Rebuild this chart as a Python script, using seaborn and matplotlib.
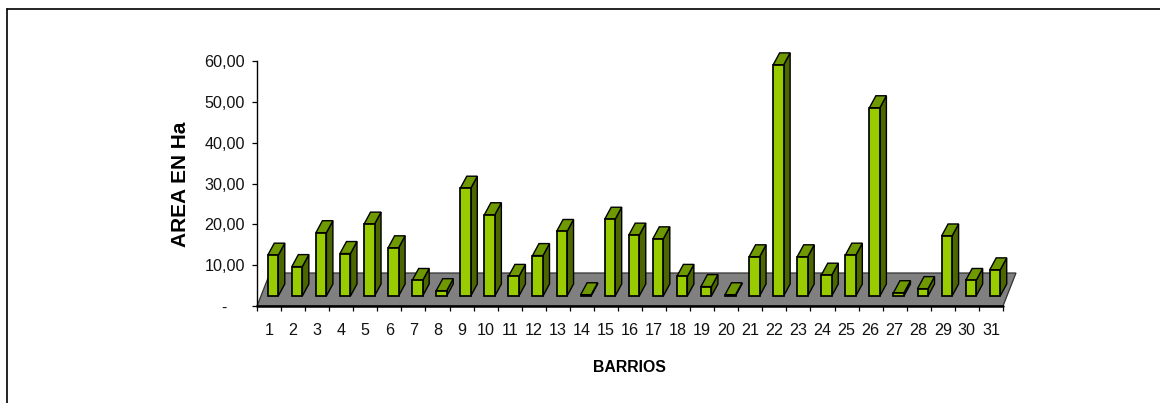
import matplotlib
matplotlib.use("Agg")
import matplotlib.pyplot as plt
import seaborn as sns
import pandas as pd
from matplotlib.patches import Polygon
from matplotlib.lines import Line2D

barrios = [str(i) for i in range(1, 32)]
area = [10.0, 7.2, 15.5, 10.4, 17.6, 11.8, 3.8, 1.3, 26.4, 19.9,
        4.8, 9.9, 15.8, 0.3, 18.8, 14.9, 14.0, 4.8, 2.3, 0.3,
        9.6, 56.6, 9.6, 5.1, 10.0, 46.1, 0.8, 1.8, 14.7, 3.8, 6.4]
yticks = [0, 10, 20, 30, 40, 50, 60]
ylabels = ["-\u00a0\u00a0\u00a0\u00a0", "10,00", "20,00", "30,00", "40,00", "50,00", "60,00"]

FRONT, TOP, SIDE, FLOOR = "#99CC00", "#6E9900", "#4C6600", "#808080"
W, H = 1160, 403
X0, X1, Y0, Y1 = 257, 1003, 306, 61   # axes box in pixels

sns.set_theme(style="white", rc={"font.family": ["Liberation Sans"]})
fig = plt.figure(figsize=(W / 100, H / 100), dpi=100, facecolor="white")
ax = fig.add_axes([X0 / W, 1 - Y0 / H, (X1 - X0) / W, (Y0 - Y1) / H])

px = 31 / (X1 - X0)       # category units per pixel
py = 60 / (Y0 - Y1)       # value units per pixel
base = 10 * py            # bars stand part way into the floor
shift = 4 * px
depth_x, depth_y = 6.5 * px, 12 * py
floor_x, floor_y = 13 * px, 33 * py

df = pd.DataFrame({"barrio": barrios, "area": area})
sns.barplot(data=df, x="barrio", y="area", ax=ax, color=FRONT, saturation=1,
            width=10.5 * px, bottom=base, edgecolor="black", linewidth=1.25, zorder=5)
ax.set_xlim(-0.5, 30.5)
ax.set_ylim(0, 60)

ax.add_patch(Polygon([(-0.5, 0), (30.5, 0), (30.5 + floor_x, floor_y), (-0.5 + floor_x, floor_y)],
                     closed=True, fc=FLOOR, ec="#333333", lw=0.9, zorder=1, clip_on=False))
ax.add_line(Line2D([-0.5, 30.5], [0, 0], color="black", lw=1.8, zorder=2, clip_on=False))

for bar in ax.patches:
    if bar.get_zorder() != 5:
        continue
    bar.set_x(bar.get_x() + shift)
    x, w = bar.get_x(), bar.get_width()
    yb, yt = bar.get_y(), bar.get_y() + bar.get_height()
    ax.add_patch(Polygon([(x + w, yb), (x + w, yt), (x + w + depth_x, yt + depth_y), (x + w + depth_x, yb + depth_y)],
                         closed=True, fc=SIDE, ec="black", lw=1.0, zorder=4, clip_on=False))
    ax.add_patch(Polygon([(x, yt), (x + w, yt), (x + w + depth_x, yt + depth_y), (x + depth_x, yt + depth_y)],
                         closed=True, fc=TOP, ec="black", lw=1.0, zorder=4, clip_on=False))

for s in ["top", "right", "bottom"]:
    ax.spines[s].set_visible(False)
ax.spines["left"].set_color("black")
ax.spines["left"].set_linewidth(1.0)
ax.spines["left"].set_zorder(3)

ax.set_yticks(yticks, ylabels, fontsize=11.6, color="#111111")
ax.tick_params(axis="y", length=3.5, width=0.9, color="black", left=True, pad=5)
ax.set_xticks(range(31), barrios, fontsize=11.6, color="#111111")
ax.set_xticks([i - 0.5 for i in range(32)], minor=True)
ax.tick_params(axis="x", which="major", length=0, pad=12)
ax.tick_params(axis="x", which="minor", length=3.5, width=0.9, color="black", bottom=True)

ax.set_xlabel("")
ax.set_ylabel("")
fig.text(629 / W, 1 - 368 / H, "BARRIOS", fontsize=11.4, fontweight="bold", ha="center", va="center",
         color="black")
fig.text(181 / W, 1 - 184 / H, "AREA EN Ha", fontsize=15, fontweight="bold", rotation=90,
         ha="center", va="center", color="black")

fig.add_artist(Line2D([6.5 / W, 6.5 / W], [0, 1 - 9 / H], color="black", lw=1.2, transform=fig.transFigure))
fig.add_artist(Line2D([6.5 / W, 1], [1 - 9 / H, 1 - 9 / H], color="black", lw=1.2, transform=fig.transFigure))

fig.savefig("out.png", dpi=100)
